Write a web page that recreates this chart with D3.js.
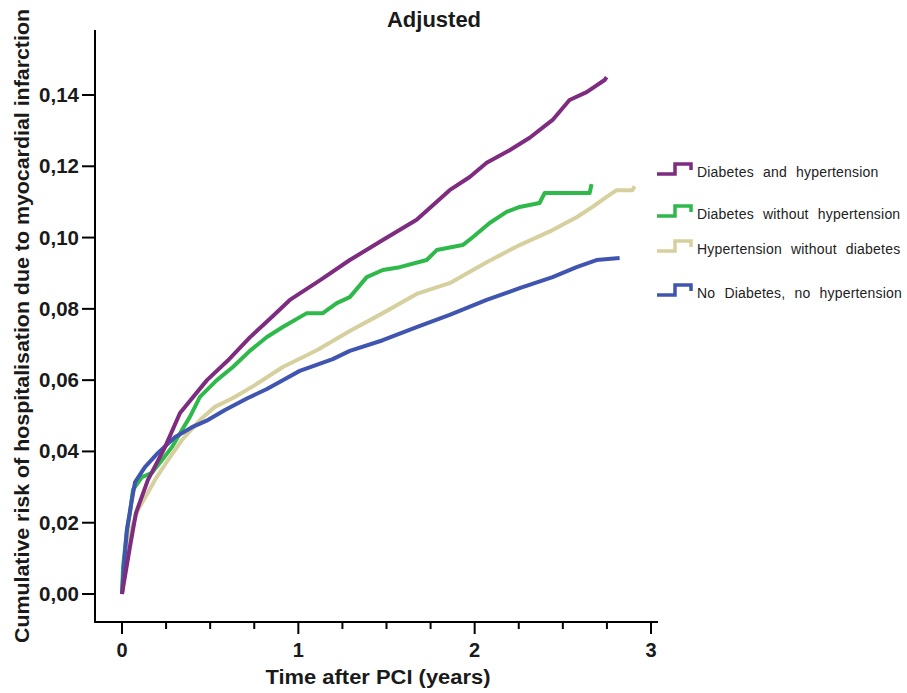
<!DOCTYPE html>
<html><head><meta charset="utf-8">
<script src="https://cdn.jsdelivr.net/npm/d3@7"></script>
<style>body{margin:0;background:#fff}svg{display:block}text{font-family:"Liberation Sans",Arial,sans-serif}</style>
</head><body><svg id="c" width="907" height="693"></svg>
<script>
const title = "Adjusted";
const xLabel = "Time after PCI (years)";
const yLabel = "Cumulative risk of hospitalisation due to myocardial infarction";
const seriesNames = ["Diabetes and hypertension","Diabetes without hypertension","Hypertension without diabetes","No Diabetes, no hypertension"];
const seriesColors = ["#7D2C80","#2FB94B","#D6D09E","#4055B0"];
const xTicks = [0,1,2,3];
const xMinorTicks = [0.25,0.5,0.75,1.25,1.5,1.75,2.25,2.5,2.75];
const yTicks = [0,0.02,0.04,0.06,0.08,0.10,0.12,0.14];

const dmHtn = [[0,0],[0.045,0.0132],[0.079,0.0227],[0.147,0.032],[0.244,0.0412],[0.329,0.0508],[0.482,0.060],[0.6,0.0655],[0.725,0.072],[0.856,0.078],[0.952,0.0825],[1.122,0.088],[1.292,0.0937],[1.479,0.0993],[1.671,0.105],[1.858,0.1133],[1.972,0.117],[2.068,0.121],[2.198,0.1245],[2.312,0.128],[2.442,0.133],[2.538,0.1386],[2.635,0.1408],[2.737,0.1442],[2.748,0.145]];
const dmNoHtn = [[0,0],[0.006,0.0076],[0.028,0.018],[0.045,0.0227],[0.062,0.0292],[0.113,0.0328],[0.17,0.034],[0.227,0.0376],[0.283,0.0412],[0.34,0.046],[0.385,0.0497],[0.442,0.0553],[0.538,0.060],[0.629,0.0637],[0.725,0.0682],[0.822,0.0721],[0.912,0.0749],[1.048,0.0788],[1.139,0.0788],[1.218,0.0816],[1.292,0.0833],[1.388,0.0889],[1.479,0.0909],[1.575,0.0917],[1.728,0.0937],[1.785,0.0965],[1.932,0.0979],[1.989,0.1001],[2.085,0.1041],[2.181,0.1072],[2.255,0.1086],[2.368,0.1097],[2.397,0.1125],[2.652,0.1125],[2.663,0.115]];
const htnNoDm = [[0,0],[0.023,0.0095],[0.051,0.018],[0.091,0.0236],[0.187,0.032],[0.261,0.0376],[0.34,0.0432],[0.442,0.0488],[0.527,0.0525],[0.629,0.055],[0.754,0.0586],[0.912,0.0637],[1.105,0.0684],[1.292,0.0738],[1.479,0.0788],[1.671,0.0842],[1.858,0.0872],[2.068,0.0931],[2.255,0.0979],[2.442,0.1021],[2.578,0.1057],[2.669,0.1086],[2.748,0.1114],[2.805,0.1133],[2.895,0.1133],[2.907,0.1144]];
const noDmNoHtn = [[0,0],[0.011,0.0081],[0.028,0.018],[0.051,0.025],[0.074,0.0314],[0.13,0.0356],[0.204,0.0396],[0.3,0.044],[0.397,0.0468],[0.487,0.0488],[0.584,0.0516],[0.714,0.055],[0.822,0.0575],[0.912,0.060],[1.008,0.0626],[1.195,0.0659],[1.292,0.0682],[1.479,0.0712],[1.671,0.0749],[1.858,0.0783],[2.068,0.0825],[2.255,0.0858],[2.442,0.0889],[2.578,0.0917],[2.691,0.0937],[2.822,0.0943]];
const seriesData = [dmHtn, dmNoHtn, htnNoDm, noDmNoHtn];

const svg = d3.select("#c");
const x = d3.scaleLinear().domain([0,3]).range([122,651]);
const y = d3.scaleLinear().domain([0,0.14]).range([594,95]);
const x0 = 95, y0 = 622, yTop = 30, xRight = 658;

svg.append("line").attr("x1",x0).attr("x2",x0).attr("y1",yTop).attr("y2",y0+1).attr("stroke","#000").attr("stroke-width",2);
svg.append("line").attr("x1",x0-1).attr("x2",xRight).attr("y1",y0).attr("y2",y0).attr("stroke","#000").attr("stroke-width",2);

const fmt = v => d3.format(".2f")(v).replace(".",",");
yTicks.forEach(v=>{
  svg.append("line").attr("x1",x0-13).attr("x2",x0).attr("y1",y(v)).attr("y2",y(v)).attr("stroke","#000").attr("stroke-width",2);
  svg.append("text").attr("x",x0-16).attr("y",y(v)+7).attr("text-anchor","end")
    .attr("font-size",20.5).attr("font-weight","bold").attr("fill","#1a1a1a").text(fmt(v));
});
xTicks.forEach(v=>{
  svg.append("line").attr("x1",x(v)).attr("x2",x(v)).attr("y1",y0).attr("y2",y0+12).attr("stroke","#000").attr("stroke-width",2);
  svg.append("text").attr("x",x(v)).attr("y",657).attr("text-anchor","middle")
    .attr("font-size",20).attr("font-weight","bold").attr("fill","#1a1a1a").text(v);
});
xMinorTicks.forEach(v=>{
  svg.append("line").attr("x1",x(v)).attr("x2",x(v)).attr("y1",y0).attr("y2",y0+7).attr("stroke","#000").attr("stroke-width",2);
});

const line = d3.line().x(d=>x(d[0])).y(d=>y(d[1])).curve(d3.curveLinear);
const paths = [];
seriesData.forEach((s,i)=>{
  paths.push(svg.append("path").attr("d",line(s)).attr("fill","none").attr("stroke",seriesColors[i])
    .attr("stroke-width",4).attr("stroke-linejoin","round"));
});
paths[0].raise();

svg.append("text").attr("x",434).attr("y",27).attr("text-anchor","middle").attr("font-size",22).attr("font-weight","bold").attr("fill","#1a1a1a").text(title);
svg.append("text").attr("x",378).attr("y",684).attr("text-anchor","middle").attr("font-size",20).attr("font-weight","bold").attr("fill","#1a1a1a").attr("textLength",225).attr("lengthAdjust","spacingAndGlyphs").text(xLabel);
svg.append("text").attr("transform","translate(29,326) rotate(-90)").attr("text-anchor","middle").attr("font-size",20).attr("font-weight","bold").attr("fill","#1a1a1a").attr("textLength",634).attr("lengthAdjust","spacingAndGlyphs").text(yLabel);

const legY = [172,214,249,293];
seriesNames.forEach((n,i)=>{
  const ly = legY[i];
  svg.append("path").attr("d",`M657,${ly+2}H675V${ly-8}H691V${ly-2}`).attr("fill","none").attr("stroke",seriesColors[i]).attr("stroke-width",3.5);
  svg.append("text").attr("x",697).attr("y",ly+5).attr("font-size",14).attr("word-spacing",5).attr("letter-spacing",0.2).attr("fill","#222").text(n);
});
</script></body></html>
